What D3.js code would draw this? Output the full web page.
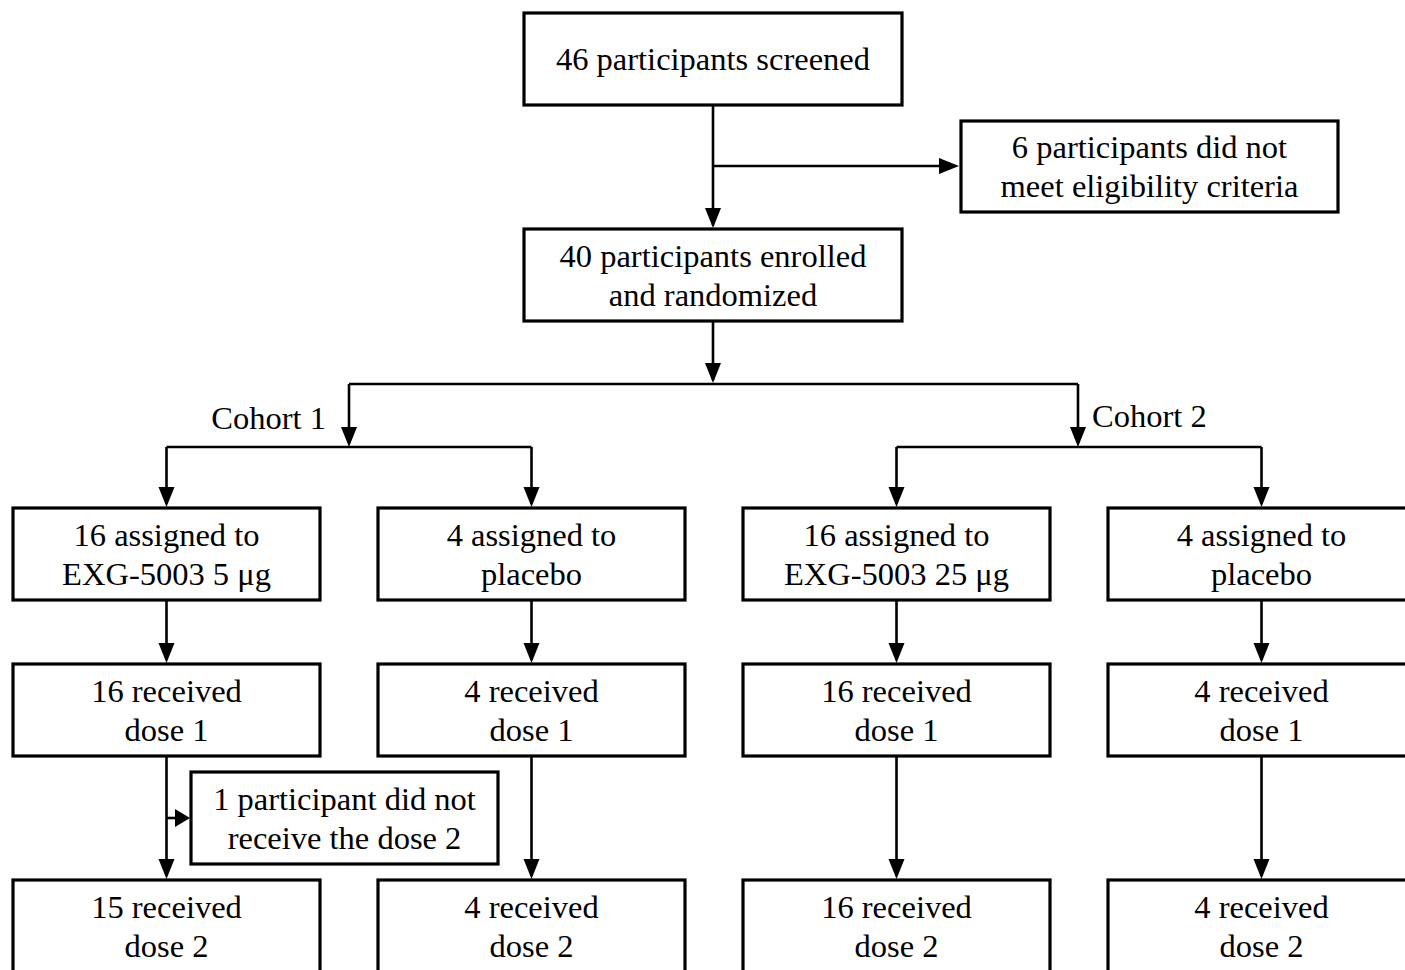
<!DOCTYPE html>
<html><head><meta charset="utf-8">
<script src="https://cdn.jsdelivr.net/npm/d3@7"></script>
<style>html,body{margin:0;padding:0;background:#fff;overflow:hidden}</style>
</head><body>
<svg id="c" width="1405" height="970"></svg>
<script>
// ---- data ----
const topLabels = [["46 participants screened"], ["40 participants enrolled", "and randomized"]];
const excludeLabel = ["6 participants did not", "meet eligibility criteria"];
const cohortLabels = ["Cohort 1", "Cohort 2"];
const assignedLabels = [["16 assigned to", "EXG-5003 5 μg"], ["4 assigned to", "placebo"], ["16 assigned to", "EXG-5003 25 μg"], ["4 assigned to", "placebo"]];
const dose1Counts = [16, 4, 16, 4];
const dose2Counts = [15, 4, 16, 4];
const dropoutLabel = ["1 participant did not", "receive the dose 2"];

// ---- layout ----
const svg = d3.select("#c");
const x = d3.scalePoint().domain([0, 1, 2, 3]).range([166.5, 1261.5]);
const boxW = 307, boxH = 92;
const cx = 713;
const FONT = "Liberation Serif";
const FS = 32.5;

const gLines = svg.append("g");
const gBoxes = svg.append("g");

function box(cxx, top, lines, w = boxW, h = boxH) {
  gBoxes.append("rect").attr("x", cxx - w / 2).attr("y", top).attr("width", w).attr("height", h)
    .attr("fill", "#fff").attr("stroke", "#000").attr("stroke-width", 3.2);
  const mid = top + h / 2;
  const n = lines.length, lh = 39;
  lines.forEach((t, i) => {
    gBoxes.append("text").attr("x", cxx).attr("y", mid + (i - (n - 1) / 2) * lh)
      .attr("text-anchor", "middle").attr("dominant-baseline", "central")
      .attr("font-family", FONT).attr("font-size", FS).attr("fill", "#000").text(t);
  });
}
function line(pts) {
  gLines.append("path").attr("d", d3.line()(pts)).attr("fill", "none").attr("stroke", "#000").attr("stroke-width", 2.6);
}
function arrowDown(xx, tipY) {
  gLines.append("path").attr("d", `M${xx - 8},${tipY - 20}L${xx + 8},${tipY - 20}L${xx},${tipY}Z`).attr("fill", "#000");
}
function arrowRight(tipX, yy, len = 20, hw = 8) {
  gLines.append("path").attr("d", `M${tipX - len},${yy - hw}L${tipX - len},${yy + hw}L${tipX},${yy}Z`).attr("fill", "#000");
}

// top section
const screenTop = 13, enrollTop = 229, bigW = 378;
box(cx, screenTop, topLabels[0], bigW);
box(cx, enrollTop, topLabels[1], bigW);
line([[cx, screenTop + boxH], [cx, enrollTop - 4]]);
arrowDown(cx, enrollTop - 1);
const exclY = 166;
line([[cx, exclY], [945, exclY]]);
arrowRight(959, exclY);
box(1149.5, 121, excludeLabel, 377, 91);

// split to cohorts
const splitY = 384;
const cohortX = [349, 1078];
line([[cx, enrollTop + boxH], [cx, splitY - 4]]);
arrowDown(cx, splitY - 1);
line([[cohortX[0], splitY], [cohortX[1], splitY]]);
const subY = 447;
const rowA = 508, rowD1 = 664, rowD2 = 880;
cohortX.forEach((cxx, k) => {
  line([[cxx, splitY], [cxx, subY - 4]]);
  arrowDown(cxx, subY);
  const a = x(2 * k), b = x(2 * k + 1);
  line([[a, subY], [b, subY]]);
  [a, b].forEach(xx => { line([[xx, subY], [xx, rowA - 4]]); arrowDown(xx, rowA - 1); });
});
svg.append("text").attr("x", 326).attr("y", 418).attr("text-anchor", "end").attr("dominant-baseline", "central")
  .attr("font-family", FONT).attr("font-size", FS).text(cohortLabels[0]);
svg.append("text").attr("x", 1092).attr("y", 416).attr("text-anchor", "start").attr("dominant-baseline", "central")
  .attr("font-family", FONT).attr("font-size", FS).text(cohortLabels[1]);

// arms
assignedLabels.forEach((lbl, i) => {
  const xx = x(i);
  box(xx, rowA, lbl);
  line([[xx, rowA + boxH], [xx, rowD1 - 4]]); arrowDown(xx, rowD1 - 1);
  box(xx, rowD1, [dose1Counts[i] + " received", "dose 1"]);
  line([[xx, rowD1 + boxH], [xx, rowD2 - 4]]); arrowDown(xx, rowD2 - 1);
  box(xx, rowD2, [dose2Counts[i] + " received", "dose 2"]);
});
// dropout
const dropY = 818;
line([[x(0), dropY], [178, dropY]]);
arrowRight(190, dropY, 15, 9);
box(344.5, 772, dropoutLabel, 307, 92);
</script>
</body></html>
